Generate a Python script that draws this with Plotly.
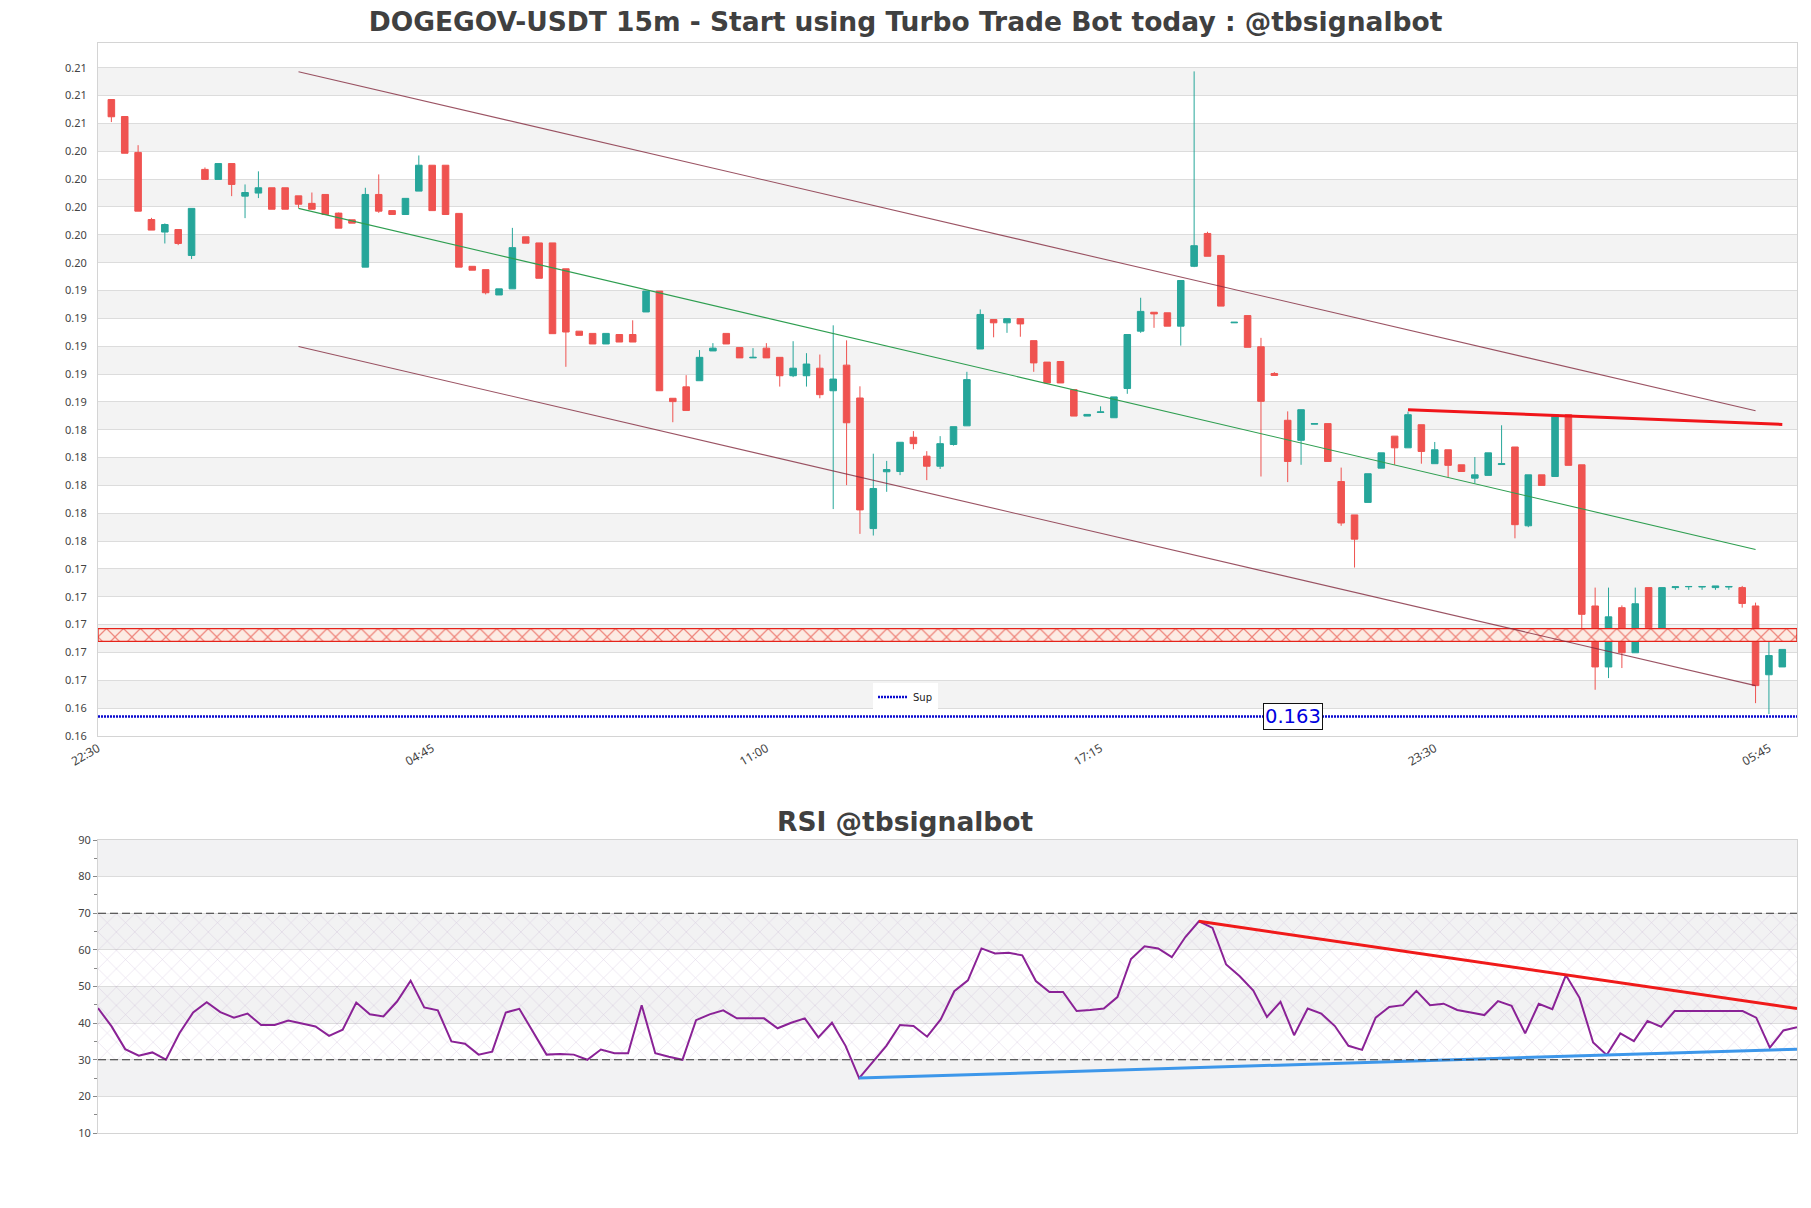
import pandas as pd
import plotly.graph_objects as go

# ---------------- data ----------------
start_time = "2024-01-01 22:45"
n_candles = 126
times = pd.date_range(start_time, periods=n_candles, freq="15min")

opens = [
    0.20742, 0.20620, 0.20362, 0.19880, 0.19790, 0.19808, 0.19622, 0.20240, 0.20168, 0.20282,
    0.20048, 0.20070, 0.20108, 0.20108, 0.20050, 0.19996, 0.20060, 0.19926, 0.19878, 0.19538,
    0.20060, 0.19944, 0.19916, 0.20084, 0.20270, 0.20270, 0.19924, 0.19544, 0.19520, 0.19338,
    0.19382, 0.19756, 0.19712, 0.19712, 0.19526, 0.19078, 0.19062, 0.18986, 0.19054, 0.19054,
    0.19216, 0.19366, 0.18596, 0.18678, 0.18722, 0.18936, 0.19062, 0.18960, 0.18886, 0.18956,
    0.18890, 0.18758, 0.18758, 0.18812, 0.18650, 0.18834, 0.18598, 0.17660, 0.18068, 0.18070,
    0.18316, 0.18180, 0.18108, 0.18264, 0.18398, 0.18950, 0.19162, 0.19138, 0.19168, 0.19010,
    0.18856, 0.18860, 0.18658, 0.18468, 0.18494, 0.18456, 0.18666, 0.19078, 0.19214, 0.19210,
    0.19114, 0.19544, 0.19780, 0.19622, 0.19138, 0.19190, 0.18966, 0.18774, 0.18438, 0.18294,
    0.18410, 0.18414, 0.17998, 0.17758, 0.17848, 0.18094, 0.18324, 0.18240, 0.18406, 0.18126,
    0.18226, 0.18118, 0.18022, 0.18042, 0.18120, 0.18246, 0.17680, 0.18046, 0.18034, 0.18478,
    0.18118, 0.17104, 0.16666, 0.17092, 0.16768, 0.17236, 0.16864, 0.17236, 0.17242, 0.17240,
    0.17236, 0.17240, 0.17236, 0.17104, 0.16610, 0.16666,
]
highs = [
    0.20742, 0.20620, 0.20414, 0.19892, 0.19852, 0.19808, 0.19960, 0.20254, 0.20282, 0.20282,
    0.20132, 0.20226, 0.20108, 0.20108, 0.20050, 0.20074, 0.20060, 0.19930, 0.19878, 0.20108,
    0.20204, 0.19944, 0.20032, 0.20340, 0.20270, 0.20270, 0.19924, 0.19544, 0.19520, 0.19382,
    0.19820, 0.19756, 0.19712, 0.19712, 0.19526, 0.19078, 0.19062, 0.19062, 0.19054, 0.19156,
    0.19366, 0.19366, 0.18596, 0.18762, 0.18942, 0.18992, 0.19062, 0.18960, 0.18956, 0.18992,
    0.18890, 0.19006, 0.18920, 0.18910, 0.19120, 0.19012, 0.18682, 0.18198, 0.18146, 0.18280,
    0.18360, 0.18216, 0.18324, 0.18392, 0.18786, 0.19234, 0.19162, 0.19168, 0.19168, 0.19010,
    0.18856, 0.18860, 0.18658, 0.18480, 0.18538, 0.18606, 0.19054, 0.19318, 0.19214, 0.19210,
    0.19442, 0.20944, 0.19792, 0.19622, 0.19142, 0.19190, 0.19030, 0.18784, 0.18502, 0.18514,
    0.18414, 0.18414, 0.18098, 0.17758, 0.18054, 0.18204, 0.18324, 0.18500, 0.18406, 0.18282,
    0.18226, 0.18118, 0.18174, 0.18204, 0.18402, 0.18246, 0.18046, 0.18046, 0.18478, 0.18478,
    0.18118, 0.17236, 0.17236, 0.17108, 0.17236, 0.17236, 0.17236, 0.17242, 0.17244, 0.17244,
    0.17248, 0.17244, 0.17248, 0.17128, 0.16886, 0.16792,
]
lows = [
    0.20580, 0.20356, 0.19940, 0.19804, 0.19708, 0.19696, 0.19596, 0.20168, 0.20168, 0.20048,
    0.19890, 0.20034, 0.19954, 0.19954, 0.19964, 0.19954, 0.19916, 0.19818, 0.19854, 0.19538,
    0.19928, 0.19916, 0.19916, 0.20084, 0.19944, 0.19916, 0.19538, 0.19516, 0.19342, 0.19338,
    0.19382, 0.19710, 0.19458, 0.19060, 0.18822, 0.19048, 0.18986, 0.18986, 0.19000, 0.19000,
    0.19216, 0.18650, 0.18424, 0.18508, 0.18722, 0.18936, 0.18986, 0.18886, 0.18886, 0.18886,
    0.18680, 0.18748, 0.18680, 0.18596, 0.17800, 0.17972, 0.17622, 0.17610, 0.17924, 0.18044,
    0.18230, 0.18008, 0.18088, 0.18256, 0.18398, 0.18950, 0.19034, 0.19066, 0.19038, 0.18786,
    0.18706, 0.18706, 0.18468, 0.18468, 0.18494, 0.18456, 0.18628, 0.19066, 0.19102, 0.19114,
    0.18974, 0.19538, 0.19616, 0.19258, 0.19138, 0.18962, 0.18034, 0.18760, 0.17994, 0.18118,
    0.18410, 0.18142, 0.17680, 0.17380, 0.17848, 0.18094, 0.18118, 0.18240, 0.18126, 0.18126,
    0.18030, 0.18070, 0.17986, 0.18042, 0.18120, 0.17590, 0.17670, 0.17970, 0.18034, 0.18114,
    0.16912, 0.16502, 0.16586, 0.16658, 0.16768, 0.16948, 0.16864, 0.17220, 0.17220, 0.17220,
    0.17220, 0.17220, 0.17092, 0.16406, 0.16328, 0.16666,
]
closes = [
    0.20618, 0.20356, 0.19940, 0.19804, 0.19844, 0.19708, 0.19960, 0.20168, 0.20282, 0.20132,
    0.20074, 0.20108, 0.19954, 0.19954, 0.19990, 0.19954, 0.19916, 0.19818, 0.19854, 0.20060,
    0.19940, 0.19916, 0.20032, 0.20270, 0.19944, 0.19916, 0.19538, 0.19516, 0.19354, 0.19382,
    0.19678, 0.19710, 0.19458, 0.19060, 0.19072, 0.19048, 0.18986, 0.19062, 0.19000, 0.19000,
    0.19366, 0.18650, 0.18572, 0.18508, 0.18890, 0.18956, 0.18986, 0.18886, 0.18890, 0.18886,
    0.18758, 0.18812, 0.18842, 0.18622, 0.18734, 0.18420, 0.17794, 0.17948, 0.18084, 0.18280,
    0.18270, 0.18108, 0.18270, 0.18392, 0.18730, 0.19198, 0.19138, 0.19168, 0.19130, 0.18850,
    0.18706, 0.18706, 0.18468, 0.18480, 0.18498, 0.18606, 0.19054, 0.19220, 0.19202, 0.19114,
    0.19442, 0.19692, 0.19616, 0.19258, 0.19142, 0.18962, 0.18574, 0.18760, 0.18142, 0.18514,
    0.18414, 0.18142, 0.17700, 0.17584, 0.18054, 0.18204, 0.18240, 0.18478, 0.18214, 0.18226,
    0.18114, 0.18070, 0.18046, 0.18204, 0.18126, 0.17688, 0.18046, 0.17970, 0.18478, 0.18114,
    0.17044, 0.16666, 0.17026, 0.16768, 0.17120, 0.16948, 0.17236, 0.17242, 0.17244, 0.17244,
    0.17248, 0.17244, 0.17122, 0.16532, 0.16748, 0.16792,
]
rsi_values = [
    44.1, 39.1, 32.9, 31.1, 32.0, 30.0, 37.3, 42.9, 45.7, 43.0,
    41.5, 42.6, 39.5, 39.5, 40.7, 40.0, 39.1, 36.5, 38.2, 45.6,
    42.4, 41.8, 45.9, 51.6, 44.3, 43.5, 35.0, 34.4, 31.4, 32.2,
    42.9, 43.9, 37.7, 31.4, 31.6, 31.4, 30.0, 32.8, 31.8, 31.8,
    44.9, 31.8, 30.8, 30.0, 40.8, 42.4, 43.5, 41.3, 41.3, 41.3,
    38.6, 40.1, 41.3, 36.1, 40.1, 33.8, 25.0, 29.5, 33.8, 39.5,
    39.2, 36.3, 41.0, 48.7, 51.7, 60.4, 59.0, 59.2, 58.5, 51.5,
    48.5, 48.5, 43.3, 43.6, 44.0, 47.1, 57.5, 61.0, 60.4, 58.0,
    63.5, 67.8, 66.0, 56.0, 52.8, 48.9, 41.7, 45.8, 36.7, 44.0,
    42.6, 39.2, 33.8, 32.7, 41.5, 44.4, 44.9, 48.8, 44.9, 45.3,
    43.6, 42.9, 42.2, 46.0, 44.7, 37.2, 45.3, 43.8, 53.1, 46.9,
    34.7, 31.3, 37.2, 35.1, 40.6, 39.0, 43.3, 43.3, 43.3, 43.3,
    43.3, 43.3, 41.5, 33.3, 38.0, 38.9,
]

# channel lines (start candle index, end candle index, start price, end price)
channel_idx = [14, 123]
channel_upper = [0.20942, 0.18506]
channel_mid = [0.19960, 0.17510]
channel_lower = [0.18968, 0.16532]
resistance_idx = [97, 125]
resistance_px = [0.18514, 0.18408]
zone_low, zone_high = 0.16850, 0.16942
sup_level = 0.1631
sup_label = "0.163"

rsi_down_idx = [81, 125]
rsi_down_val = [67.8, 44.0]
rsi_up_idx = [56, 125]
rsi_up_val = [25.0, 32.9]

title_main = "DOGEGOV-USDT 15m - Start using Turbo Trade Bot today : @tbsignalbot"
title_rsi = "RSI @tbsignalbot"

# ---------------- figure ----------------
W, H = 1811, 1208
step = pd.Timedelta(minutes=15)
x_start = times[0] - step
x_end = times[0] + step * 126.1
y_tick0, y_dtick = 0.1617, 0.002
y_top = 0.21148

fig = go.Figure()

# support zone (hatched)
fig.add_trace(go.Scatter(
    x=[x_start, x_end, x_end, x_start, x_start],
    y=[zone_low, zone_low, zone_high, zone_high, zone_low],
    fill="toself", mode="lines",
    line=dict(color="#e5231b", width=1.3),
    fillcolor="#fcebe3",
    fillpattern=dict(shape="x", fgcolor="#e0251a", bgcolor="#fcebe3", size=12, solidity=0.2),
    showlegend=False, hoverinfo="skip", xaxis="x", yaxis="y"))

fig.add_trace(go.Candlestick(
    x=times, open=opens, high=highs, low=lows, close=closes,
    increasing=dict(line=dict(color="#26a69a", width=1), fillcolor="#26a69a"),
    decreasing=dict(line=dict(color="#ef5350", width=1), fillcolor="#ef5350"),
    showlegend=False, xaxis="x", yaxis="y"))

ch_x = [times[channel_idx[0]], times[channel_idx[1]]]
for vals, col in [(channel_upper, "rgba(130,40,60,0.8)"), (channel_lower, "rgba(130,40,60,0.8)"),
                  (channel_mid, "#2e9e50")]:
    fig.add_trace(go.Scatter(x=ch_x, y=vals, mode="lines", line=dict(color=col, width=1.1),
                             showlegend=False, hoverinfo="skip", xaxis="x", yaxis="y"))

fig.add_trace(go.Scatter(x=[times[resistance_idx[0]], times[resistance_idx[1]]], y=resistance_px,
                         mode="lines", line=dict(color="#f0151a", width=3),
                         showlegend=False, hoverinfo="skip", xaxis="x", yaxis="y"))

fig.add_trace(go.Scatter(x=[x_start, x_end], y=[sup_level, sup_level], mode="lines",
                         line=dict(color="#0a0ad0", width=2.5, dash="2px,1px"),
                         name="Sup", showlegend=True, xaxis="x", yaxis="y"))

# RSI panel
fig.add_trace(go.Scatter(
    x=[times[0], times[-1], times[-1], times[0], times[0]], y=[30, 30, 70, 70, 30],
    fill="toself", mode="none", fillcolor="rgba(0,0,0,0)",
    fillpattern=dict(shape="x", fgcolor="rgba(150,110,175,0.6)", bgcolor="rgba(0,0,0,0)",
                     size=13, solidity=0.08),
    showlegend=False, hoverinfo="skip", xaxis="x2", yaxis="y2"))

fig.add_trace(go.Scatter(x=times, y=rsi_values, mode="lines",
                         line=dict(color="#8a2296", width=2),
                         showlegend=False, xaxis="x2", yaxis="y2"))
fig.add_trace(go.Scatter(x=[times[i] for i in rsi_down_idx], y=rsi_down_val, mode="lines",
                         line=dict(color="#f01a1a", width=3), showlegend=False,
                         hoverinfo="skip", xaxis="x2", yaxis="y2"))
fig.add_trace(go.Scatter(x=[times[i] for i in rsi_up_idx], y=rsi_up_val, mode="lines",
                         line=dict(color="#3d97ea", width=3), showlegend=False,
                         hoverinfo="skip", xaxis="x2", yaxis="y2"))

shapes = []
# alternating bands main
k = 1
while y_tick0 + y_dtick * (k + 1) <= y_top + 1e-9:
    shapes.append(dict(type="rect", xref="x domain", yref="y", x0=0, x1=1,
                       y0=y_tick0 + y_dtick * k, y1=y_tick0 + y_dtick * (k + 1),
                       fillcolor="#f3f3f3", line=dict(width=0), layer="below"))
    k += 2
for lo in [20, 40, 60, 80]:
    shapes.append(dict(type="rect", xref="x2 domain", yref="y2", x0=0, x1=1, y0=lo, y1=lo + 10,
                       fillcolor="#f2f2f3", line=dict(width=0), layer="below"))
for lvl in [70, 30]:
    shapes.append(dict(type="line", xref="x2 domain", yref="y2", x0=0, x1=1, y0=lvl, y1=lvl,
                       line=dict(color="#333333", width=1.2, dash="8px,4px")))

main_dom = [1 - 736 / H, 1 - 43 / H]
rsi_dom = [1 - 1133 / H, 1 - 840 / H]
center_paper = (W / 2 - 98) / (W - 98 - 14)

axis_line = dict(showline=True, linecolor="#d4d4d4", linewidth=1, mirror=True, automargin=False)
tickfont = dict(family="Noto Sans", size=11, color="#444444")

fig.update_layout(
    width=W, height=H, autosize=False,
    margin=dict(l=98, r=14, t=0, b=0, autoexpand=False),
    paper_bgcolor="white", plot_bgcolor="white",
    font=dict(family="Noto Sans"),
    title=dict(text="<b>" + title_main + "</b>", xref="container", x=0.5, xanchor="center",
               yref="container", y=1 - 22 / H, yanchor="middle", automargin=False,
               font=dict(family="DejaVu Sans", size=26.5, color="#404040")),
    xaxis=dict(domain=[0, 1], anchor="y", type="date", range=[x_start, x_end],
               tick0=times[0] - step, dtick=25 * 15 * 60 * 1000, tickformat="%H:%M",
               tickangle=-30, tickfont=dict(family="Noto Sans", size=12, color="#444444"),
               showgrid=False, ticks="", ticklabelstandoff=0,
               rangeslider=dict(visible=False), **axis_line),
    yaxis=dict(domain=main_dom, anchor="x", range=[y_tick0, y_top], tick0=y_tick0, dtick=y_dtick,
               tickmode="linear", tickformat=".2f", tickfont=tickfont, showgrid=True,
               gridcolor="#dcdcdc", gridwidth=1, zeroline=False, ticks="",
               ticklabelstandoff=8, **axis_line),
    xaxis2=dict(domain=[0, 1], anchor="y2", type="date", range=[times[0], times[-1]],
                showticklabels=False, showgrid=False, ticks="", **axis_line),
    yaxis2=dict(domain=rsi_dom, anchor="x2", range=[10, 90], tickmode="linear", tick0=10, dtick=10,
                tickfont=tickfont, showgrid=True, gridcolor="#dcdcdc", zeroline=False,
                ticks="outside", ticklen=4, tickcolor="#888888",
                minor=dict(ticks="outside", ticklen=3, dtick=5, tick0=5, tickcolor="#888888", showgrid=False),
                **axis_line),
    shapes=shapes,
    legend=dict(x=center_paper, xanchor="center", y=1 - 697 / H, yanchor="middle",
                bgcolor="white", font=dict(family="DejaVu Sans", size=10, color="#222"),
                itemwidth=30, borderwidth=0),
    annotations=[
        dict(text="<b>" + title_rsi + "</b>", xref="paper", yref="paper", x=center_paper,
             y=1 - 821 / H, xanchor="center", yanchor="middle", showarrow=False,
             font=dict(family="DejaVu Sans", size=26.5, color="#404040")),
        dict(text=sup_label, xref="x", yref="y", x=times[88] + pd.Timedelta(minutes=6), y=sup_level,
             showarrow=False, font=dict(family="DejaVu Sans", size=19.5, color="#0000e0"),
             bgcolor="white", bordercolor="#111111", borderwidth=1, borderpad=1),
    ],
)

fig.write_html("out.html")
